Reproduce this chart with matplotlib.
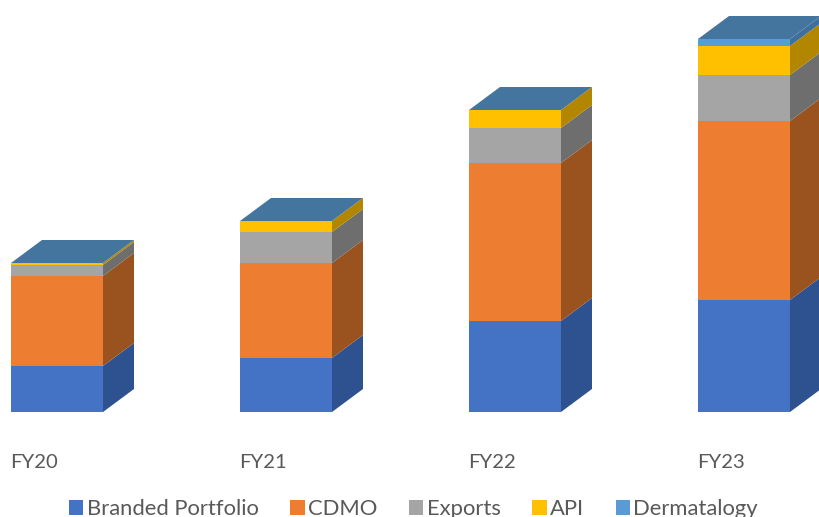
"""
Stacked 3D-look revenue mix by fiscal year.
"""
import matplotlib
matplotlib.use('Agg')
import matplotlib.pyplot as plt
from matplotlib.patches import Polygon, Rectangle

# Data (arbitrary units)
years = ['FY20', 'FY21', 'FY22', 'FY23']
branded = [46, 54, 91, 112]
cdmo = [90, 95, 158, 179]
exports = [11, 31, 35, 46]
api = [2, 11, 18, 29]
derma = [0, 0, 0, 7]

series_names = ['Branded Portfolio', 'CDMO', 'Exports', 'API', 'Dermatalogy']
series_values = [branded, cdmo, exports, api, derma]
front_colors = ['#4472C4', '#ED7D31', '#A5A5A5', '#FFC000', '#5B9BD5']
side_colors = ['#2E5290', '#9A521F', '#6E6E6E', '#B38600', '#3F6F9C']
top_color = '#44759F'

plt.rcParams['font.family'] = ['Lato', 'DejaVu Sans']

fig = plt.figure(figsize=(8.19, 5.17), dpi=100)
ax = fig.add_axes([0, 0, 1, 1])
ax.set_xlim(-57 / 229, 762 / 229)
ax.set_ylim(-105, 412)
ax.axis('off')

bar_w = 92 / 229
depth_x = 31 / 229
depth_y = 23

for i, year in enumerate(years):
    left = i - bar_w / 2
    right = i + bar_w / 2
    bottom = 0
    for vals, front, side in zip(series_values, front_colors, side_colors):
        h = vals[i]
        if h > 0:
            ax.add_patch(Rectangle((left, bottom), bar_w, h, fc=front, ec='none'))
            ax.add_patch(Polygon([(right, bottom), (right + depth_x, bottom + depth_y),
                                  (right + depth_x, bottom + h + depth_y), (right, bottom + h)],
                                 fc=side, ec='none'))
        bottom += h
    ax.add_patch(Polygon([(left, bottom), (right, bottom),
                          (right + depth_x, bottom + depth_y), (left + depth_x, bottom + depth_y)],
                         fc=top_color, ec='none'))
    ax.text(left - 0.004, -51, year, fontsize=14.6, color='#595959', ha='left', va='center')

handles = [Rectangle((0, 0), 1, 1, fc=c, ec='none') for c in front_colors]
fig.legend(handles, series_names, loc='lower center', bbox_to_anchor=(0.505, -0.042), ncol=5,
           frameon=False, fontsize=15.8, labelcolor='#595959', handlelength=0.65, handleheight=0.65,
           handletextpad=0.15, columnspacing=1.45)

fig.savefig('out.png', dpi=100)
plt.close(fig)
